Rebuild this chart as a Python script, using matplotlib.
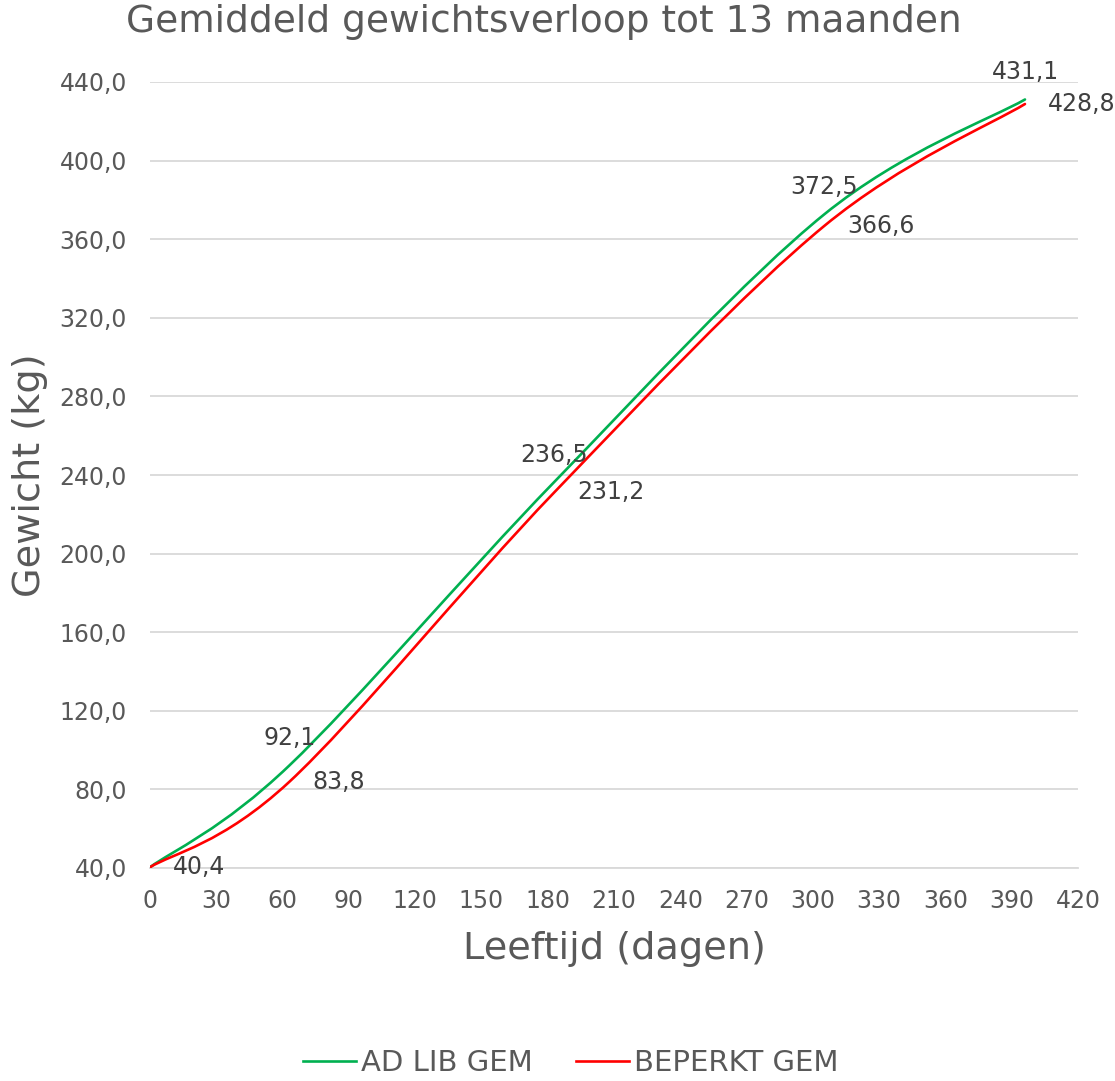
import matplotlib
matplotlib.use("Agg")
import matplotlib.pyplot as plt
from matplotlib.path import Path
from matplotlib.patches import PathPatch
from matplotlib.lines import Line2D

plt.rcParams['font.family'] = ['DejaVu Sans']

days = [0, 63, 183, 305, 396]
adlib = [40.4, 92.1, 236.5, 372.5, 431.1]
beperkt = [40.4, 83.8, 231.2, 366.6, 428.8]
series_names = ["AD LIB GEM", "BEPERKT GEM"]
colors = ["#00B050", "#FF0000"]
yticks = [40, 80, 120, 160, 200, 240, 280, 320, 360, 400, 440]
xticks = list(range(0, 421, 30))


def smooth_path(xs, ys):
    # Excel-like smoothed line: cubic Bezier segments (Catmull-Rom control points)
    n = len(xs)
    verts = [(xs[0], ys[0])]
    codes = [Path.MOVETO]
    for i in range(n - 1):
        x0, y0 = xs[max(i - 1, 0)], ys[max(i - 1, 0)]
        x1, y1 = xs[i], ys[i]
        x2, y2 = xs[i + 1], ys[i + 1]
        x3, y3 = xs[min(i + 2, n - 1)], ys[min(i + 2, n - 1)]
        c1 = (x1 + (x2 - x0) / 6.0, y1 + (y2 - y0) / 6.0)
        c2 = (x2 - (x3 - x1) / 6.0, y2 - (y3 - y1) / 6.0)
        verts += [c1, c2, (x2, y2)]
        codes += [Path.CURVE4] * 3
    return Path(verts, codes)


fig = plt.figure(figsize=(11.15, 10.81), dpi=100)
ax = fig.add_axes([150 / 1115, 1 - 868 / 1081, (1078 - 150) / 1115, (868 - 82) / 1081])

for vals, col in zip([adlib, beperkt], colors):
    p = PathPatch(smooth_path(days, vals), facecolor="none", edgecolor=col, lw=1.9,
                  capstyle="round", joinstyle="round", zorder=3)
    ax.add_patch(p)

txtc = "#404040"
fmt = lambda v: f"{v:.1f}".replace(".", ",")
# AD LIB labels above (first one hidden behind the BEPERKT label)
for i, (x, v) in enumerate(zip(days, adlib)):
    if i == 0:
        continue
    ax.annotate(fmt(v), (x, v), xytext=(0, 11), textcoords="offset points",
                ha="center", va="bottom", fontsize=17, color=txtc, zorder=4,
                annotation_clip=False)
for x, v in zip(days, beperkt):
    ax.annotate(fmt(v), (x, v), xytext=(16.5, 0), textcoords="offset points",
                ha="left", va="center", fontsize=17, color=txtc, zorder=4,
                annotation_clip=False)

ax.set_xlim(0, 420)
ax.set_ylim(40, 440)
ax.set_yticks(yticks)
ax.set_yticklabels([fmt(v) for v in yticks])
ax.set_xticks(xticks)
ax.set_xticklabels([str(v) for v in xticks])
ax.grid(axis="y", color="#D9D9D9", lw=1.3)
ax.set_axisbelow(True)
for s in ["top", "right", "left"]:
    ax.spines[s].set_visible(False)
ax.spines["bottom"].set_color("#D9D9D9")
ax.spines["bottom"].set_linewidth(1.3)
ax.tick_params(axis="both", length=0, labelsize=17, colors="#595959")
ax.tick_params(axis="y", pad=16.5)
ax.tick_params(axis="x", pad=15)

ax.set_xlabel("Leeftijd (dagen)", fontsize=27.5, color="#595959", labelpad=13)
ax.set_ylabel("Gewicht (kg)", fontsize=27.5, color="#595959", labelpad=8)
fig.text(0.488, 0.9796, "Gemiddeld gewichtsverloop tot 13 maanden", ha="center", va="center",
         fontsize=27, color="#595959")

handles = [Line2D([], [], color=c, lw=1.9) for c in colors]
fig.legend(handles, series_names, loc="center", bbox_to_anchor=(0.512, 0.0167), ncol=2,
           frameon=False, fontsize=21, handlelength=1.8, handletextpad=0.17,
           columnspacing=1.5, labelcolor="#595959")

fig.savefig("out.png", dpi=100)
